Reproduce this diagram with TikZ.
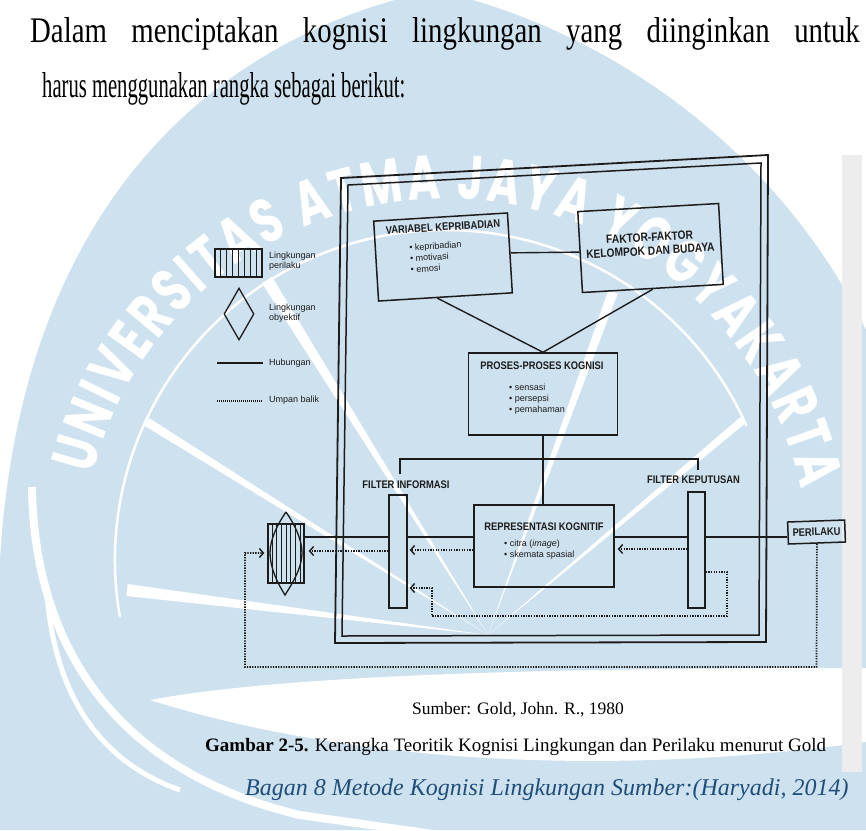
\documentclass[tikz,border=0pt]{standalone}
\usepackage{graphicx}
\usepackage{fontspec}
\setmainfont{Liberation Serif}
\newfontfamily\dgsans{Liberation Sans}
\newfontfamily\dgtitle[FakeStretch=0.85]{Liberation Sans}
\newfontfamily\wmfont[FakeStretch=0.72]{Poppins}
\usetikzlibrary{arrows.meta,calc,decorations.text,shapes.geometric}

\definecolor{wmblue}{RGB}{205,225,239}
\definecolor{capblue}{RGB}{31,78,121}
\definecolor{ink}{RGB}{28,28,28}

\begin{document}
\begin{tikzpicture}[x=1pt,y=-1pt,
  box/.style={draw=ink, line width=1.5pt, inner sep=0pt},
  frm/.style={draw=ink, line width=1.8pt},
  lnk/.style={draw=ink, line width=1.4pt},
  fb/.style={draw=ink, line width=1.7pt, dash pattern=on 1.3pt off 1.3pt,
             -{Straight Barb[length=4pt,width=9pt,line width=1.4pt]}},
  ttl/.style={font=\dgtitle\bfseries\fontsize{11}{13}\selectfont, inner sep=0pt, text=ink},
  bul/.style={font=\dgsans\fontsize{9}{11}\selectfont, align=left, inner sep=0pt, text=ink},
  lgd/.style={font=\dgsans\fontsize{9}{10.5}\selectfont, align=left, inner sep=0pt, anchor=west, text=ink},
  stripe/.style={draw=ink, line width=0.9pt}
]
\fill[white] (0,0) rectangle (866,830);
\useasboundingbox (0,0) rectangle (866,830);

% ---------- watermark: university emblem ----------
\fill[wmblue] (435,-10) .. controls (200,40) and (20,220) .. (0,560) -- (0,830)
  -- (866,830) -- (866,330) .. controls (800,190) and (650,40) .. (435,-10) -- cycle;
\coordinate (F) at (488,635);
\foreach \px/\py/\w in {147/422/9, 267/280/12, 127/590/12, 743/420/8, 613/292/10}{
  \coordinate (P) at (\px,\py);
  \fill[white] (F) -- ($(P)!\w pt/2!90:(F)$) -- ($(P)!\w pt/2!-90:(F)$) -- cycle;
}
\draw[white, line width=2.5pt] (445,560) ++(170:330) arc[start angle=170, end angle=336, radius=330];
% waves in the lower part of the emblem
\fill[white] (150,700) .. controls (300,672) and (600,668) .. (866,668) -- (866,742)
  .. controls (650,772) and (380,772) .. (150,700) -- cycle;
\draw[white, line width=8pt] (32,487) .. controls (34,640) and (110,770) .. (300,815) -- (440,835);
\draw[white, line width=5pt] (47,595) .. controls (55,690) and (95,760) .. (180,790);
\path[decorate, decoration={text along path, text color=white, text align=fit to path,
  text={|\wmfont\bfseries\fontsize{62}{62}\selectfont|UNIVERSITAS ATMA JAYA YOGYAKARTA}}]
  (445,562) ++(194:363) arc[start angle=194, end angle=348.5, radius=363];
\fill[gray!14] (842,155) rectangle (862,772);

% ---------- paragraph ----------
\node[anchor=base west, inner sep=0pt, font=\fontsize{36}{36}\selectfont] (para1) at (30,42)
  {\scalebox{0.8}[1]{\makebox[1037pt][s]{Dalam menciptakan kognisi lingkungan yang diinginkan untuk}}};
\node[anchor=base west, inner sep=0pt, font=\fontsize{36}{36}\selectfont] (para2) at (42,97)
  {\scalebox{0.573}[1]{harus menggunakan rangka sebagai berikut:}};

% ---------- double frame ----------
\draw[frm] (341,178) -- (768,155) -- (766,642) -- (335,643) -- cycle;
\draw[frm, line width=1.5pt] (348,185) -- (761,163) -- (759,635) -- (342,636) -- cycle;

% ---------- legend ----------
\node[box, line width=1.4pt, minimum width=47, minimum height=28] (lgbeh) at (238.5,263) {};
\foreach \i in {1,...,7}
  \draw[stripe] ($(lgbeh.north west)!\i/8!(lgbeh.north east)$) -- ($(lgbeh.south west)!\i/8!(lgbeh.south east)$);
\node[lgd] (lgbehT) at (269,261) {Lingkungan\\perilaku};
\node[diamond, draw=ink, line width=1.3pt, minimum width=30, minimum height=52, inner sep=0pt] (lgobj) at (239,314) {};
\node[lgd] (lgobjT) at (269,313) {Lingkungan\\obyektif};
\coordinate (hubA) at (217,363); \coordinate (hubB) at (263,363);
\draw[lnk] (hubA) -- (hubB);
\node[lgd] (hubT) at (269,363) {Hubungan};
\coordinate (umpA) at (217,401); \coordinate (umpB) at (263,401);
\draw[draw=ink, line width=1.2pt, dash pattern=on 1pt off 1pt] (umpA) -- (umpB);
\node[lgd] (umpT) at (269,400) {Umpan balik};

% ---------- upper boxes ----------
\node[box, minimum width=134, minimum height=80, rotate=3.5] (var) at (443,257) {};
\node[ttl, rotate=3.5] (varT) at (443,227) {VARIABEL KEPRIBADIAN};
\node[bul, anchor=north west, rotate=3.5] (varB) at (409,244) {• kepribadian\\• motivasi\\• emosi};

\node[box, minimum width=141, minimum height=81, rotate=3.3] (fak) at (650.5,248) {};
\node[ttl, font=\dgtitle\bfseries\fontsize{12}{13.5}\selectfont, align=center, rotate=3.3] (fakT) at (650,244)
  {FAKTOR-FAKTOR\\KELOMPOK DAN BUDAYA};

\node[box, minimum width=149, minimum height=82] (pro) at (543,394) {};
\node[ttl] (proT) at (542,366) {PROSES-PROSES KOGNISI};
\node[bul, anchor=north west] (proB) at (509,384) {• sensasi\\• persepsi\\• pemahaman};

\draw[lnk] (var.east) -- (fak.west);
\draw[lnk] ($(var.south west)!0.44!(var.south east)$) -- (pro.north);
\draw[lnk] (fak.south) -- (pro.north);

% ---------- filters and cognitive representation ----------
\node[box, minimum width=140, minimum height=82] (rep) at (544,546) {};
\node[ttl] (repT) at (544,527) {REPRESENTASI KOGNITIF};
\node[bul, anchor=north west] (repB) at (504,540) {• citra (\textit{image})\\• skemata spasial};

\node[box, line width=1.4pt, minimum width=18, minimum height=113] (fi) at (398,551.5) {};
\node[box, line width=1.4pt, minimum width=17, minimum height=116] (fk) at (696.5,550) {};
\node[ttl] (fiT) at (406,485) {FILTER INFORMASI};
\node[ttl] (fkT) at (693.5,480) {FILTER KEPUTUSAN};

\node[box, minimum width=57, minimum height=22, rotate=2] (per) at (816.5,532) {};
\node[ttl, rotate=2] (perT) at (816.5,532) {PERILAKU};

\draw[lnk] (pro.south) -- (pro.south |- rep.north);
\coordinate (brL) at (400,474); \coordinate (brR) at (698,470);
\coordinate (brLt) at (400,459); \coordinate (brRt) at (698,459);
\draw[lnk] (brL) -- (brLt) -- (brRt) -- (brR);

% ---------- combined environment symbol ----------
\node[box, line width=1.4pt, minimum width=36, minimum height=59] (sym) at (286,553.5) {};
\foreach \i in {1,...,7}
  \draw[stripe] ($(sym.north west)!\i/8!(sym.north east)$) -- ($(sym.south west)!\i/8!(sym.south east)$);
\coordinate (lensT) at (286,512); \coordinate (lensR) at (302,553);
\coordinate (lensB) at (285,595); \coordinate (lensL) at (270,553);
\draw[draw=ink, line width=1.3pt] (lensT) .. controls (293,522) and (302,538) .. (lensR)
  .. controls (302,568) and (292,584) .. (lensB)
  .. controls (278,584) and (270,568) .. (lensL)
  .. controls (270,538) and (279,522) .. (lensT);

% ---------- relations ----------
\coordinate (ln) at (0,537);
\draw[lnk] (sym.east |- ln) -- (fi.west |- ln);
\draw[lnk] (fi.east |- ln) -- (rep.west |- ln);
\draw[lnk] (rep.east |- ln) -- (fk.west |- ln);
\draw[lnk] (fk.east |- ln) -- (per.west |- ln);

% ---------- feedback ----------
\coordinate (f1) at (0,549);
\draw[fb, shorten >=3pt] (fk.west |- f1) -- (rep.east |- f1);
\coordinate (f2) at (0,550);
\draw[fb, shorten >=2pt] (rep.west |- f2) -- (fi.east |- f2);
\coordinate (f3) at (0,551);
\draw[fb, shorten >=4pt] (fi.west |- f3) -- (sym.east |- f3);

\coordinate (k1) at (727,572); \coordinate (k2) at (727,616);
\coordinate (k3) at (432,616); \coordinate (k4) at (432,588);
\draw[fb, shorten >=2pt] (fk.east |- k1) -- (k1) -- (k2) -- (k3) -- (k4) -- (fi.east |- k4);

\coordinate (o1) at (816.5,667); \coordinate (o2) at (245,667); \coordinate (o3) at (245,553);
\draw[fb, shorten >=3pt] (per.south) -- (o1) -- (o2) -- (o3) -- (sym.west |- o3);

% ---------- captions ----------
\node[anchor=base, inner sep=0pt, font=\fontsize{17.5}{18}\selectfont] (src) at (518,714) {Sumber: Gold, John. R., 1980};
\node[anchor=base west, inner sep=0pt, font=\fontsize{19}{20}\selectfont] (fig) at (205,751)
  {\textbf{Gambar 2-5.} Kerangka Teoritik Kognisi Lingkungan dan Perilaku menurut Gold};
\node[anchor=base west, inner sep=0pt, text=capblue, font=\itshape\fontsize{24}{26}\selectfont] (cap) at (245,795)
  {Bagan 8 Metode Kognisi Lingkungan Sumber:(Haryadi, 2014)};
\end{tikzpicture}
\end{document}
